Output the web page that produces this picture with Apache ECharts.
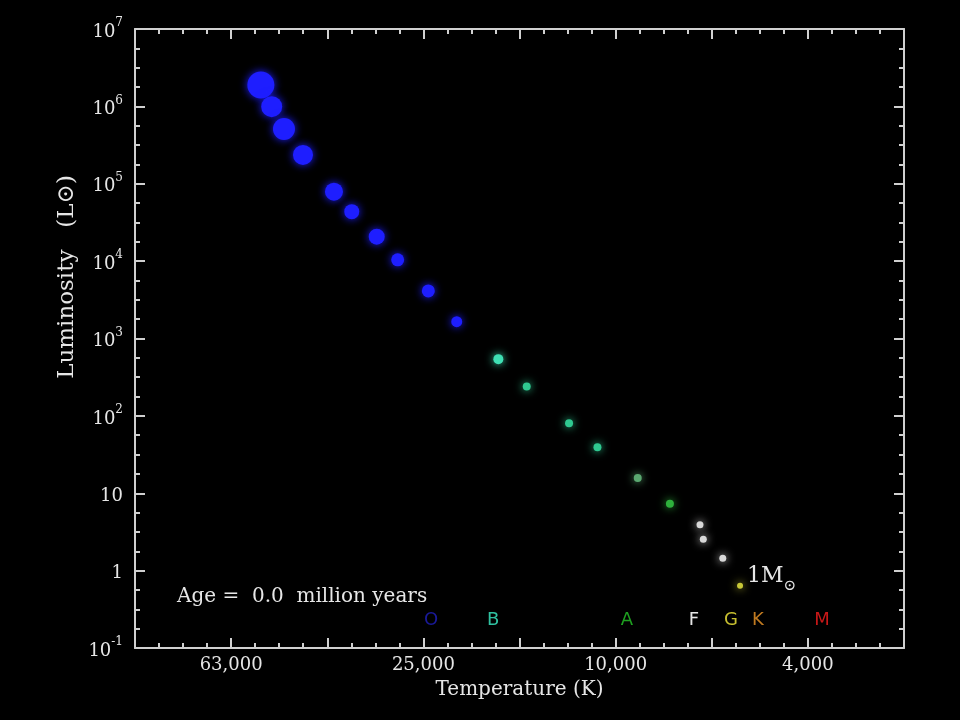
<!DOCTYPE html>
<html>
<head>
<meta charset="utf-8">
<script src="https://cdn.jsdelivr.net/npm/echarts@6/dist/echarts.min.js"></script>
<style>
html,body{margin:0;padding:0;background:#000;}
#chart{width:960px;height:720px;}
</style>
</head>
<body>
<div id="chart"></div>
<script>
// ---- data ----
const temperatureK = [54720, 51950, 48980, 44720, 38550, 35400, 31410, 28410, 24530, 21410, 17540, 15310, 12500, 10910, 8995, 7710, 6675, 6570, 5985, 5510];
const luminosityLsun = [1.89e6, 9.91e5, 5.11e5, 2.36e5, 7.91e4, 4.36e4, 2.07e4, 1.04e4, 4120, 1650, 541, 239, 80.5, 39.4, 15.7, 7.29, 3.91, 2.55, 1.45, 0.637];
const sunLabel = '1 M⊙';
const sunIndex = 19;

const spectralLetters = ['O', 'B', 'A', 'F', 'G', 'K', 'M'];
const spectralTempsK = [24200, 17990, 9470, 6870, 5755, 5060, 3720];
const spectralRowL = 0.231;

const xTickTemps = [63000, 25000, 10000, 4000];
const xTickLabels = ['63,000', '25,000', '10,000', '4,000'];
const yTickLabels = ['10^-1', '1', '10', '10^2', '10^3', '10^4', '10^5', '10^6', '10^7'];

const ageText = 'Age =  0.0  million years';
const xTitle = 'Temperature (K)';
const yTitle = 'Luminosity   (L⊙)';

// ---- styles ----
const starSymbolSizes = [27, 21, 22, 20, 18, 15, 16, 13, 13, 11, 10, 8, 8, 8, 8, 8, 7, 7, 7, 6];
const starColors = ['#1e1eff', '#1e1eff', '#1e1eff', '#1e1eff', '#1e1eff', '#1e1eff', '#1e1eff', '#1e1eff', '#1e1eff', '#1e1eff',
  '#3fe0b4', '#2fc890', '#2fc890', '#2fc890', '#5aa870', '#2eb03c', '#d8d8d8', '#d8d8d8', '#d8d8d8', '#c8c838'];
const letterColors = ['#1a1a9a', '#2fc0a0', '#1ea020', '#e6e6e6', '#c8c030', '#c07a20', '#c81818'];
const axisColor = '#d0d0d0';
const textColor = '#e6e6e6';
const serif = '"DejaVu Serif", serif';

const chart = echarts.init(document.getElementById('chart'), null, {renderer: 'canvas'});

function xFormatter(v) {
  for (let i = 0; i < xTickTemps.length; i++) {
    if (Math.abs(Math.log10(xTickTemps[i]) - v) < 0.02) return xTickLabels[i];
  }
  return '';
}
function yFormatter(v) {
  const idx = Math.round(v) + 1;
  const lab = yTickLabels[idx];
  if (lab === undefined) return '';
  if (lab.indexOf('^') >= 0) {
    const parts = lab.split('^');
    return '{b|' + parts[0] + '}{s|' + parts[1] + '}';
  }
  return '{b|' + lab + '}';
}

const tickStyle = {color: axisColor, width: 2};
function baseX(extra) {
  return Object.assign({
    type: 'value', min: 3.4, max: 5.0, interval: 0.2, inverse: true,
    axisLine: {show: true, onZero: false, lineStyle: {color: axisColor, width: 2}},
    axisTick: {show: true, inside: true, length: 10, lineStyle: tickStyle},
    minorTick: {show: true, splitNumber: 4, length: 5, lineStyle: tickStyle},
    splitLine: {show: false}, minorSplitLine: {show: false}
  }, extra);
}
function baseY(extra) {
  return Object.assign({
    type: 'value', min: -1, max: 7, interval: 1,
    axisLine: {show: true, onZero: false, lineStyle: {color: axisColor, width: 2}},
    axisTick: {show: true, inside: true, length: 10, lineStyle: tickStyle},
    minorTick: {show: true, splitNumber: 4, length: 5, lineStyle: tickStyle},
    splitLine: {show: false}, minorSplitLine: {show: false}
  }, extra);
}

const starData = temperatureK.map((t, i) => {
  const item = {
    value: [Math.log10(t), Math.log10(luminosityLsun[i])],
    symbolSize: starSymbolSizes[i],
    itemStyle: {color: starColors[i], opacity: 1, shadowBlur: 8, shadowColor: starColors[i]}
  };
  if (i === sunIndex) {
    const parts = sunLabel.split('⊙');
    item.label = {
      show: true, position: 'right', distance: 4, opacity: 1,
      formatter: '{a|' + parts[0].replace(' ', '') + '}{b|⊙}',
      rich: {
        a: {fontSize: 22, lineHeight: 22, verticalAlign: 'top', fontFamily: serif, color: textColor},
        b: {fontSize: 15, lineHeight: 40, fontFamily: serif, color: textColor}
      }
    };
  }
  return item;
});

const letterData = spectralLetters.map((l, i) => ({
  value: [Math.log10(spectralTempsK[i]), Math.log10(spectralRowL)],
  label: {show: true, position: 'inside', formatter: l, color: letterColors[i], opacity: 1,
    fontFamily: '"DejaVu Sans", sans-serif', fontSize: 18}
}));

const option = {
  backgroundColor: '#000',
  animation: false,
  grid: {left: 135, right: 56, top: 29, bottom: 72, containLabel: false},
  xAxis: [
    baseX({position: 'bottom',
      axisLabel: {formatter: xFormatter, color: textColor, fontFamily: serif, fontSize: 18, margin: 8},
      name: xTitle, nameLocation: 'middle', nameGap: 32,
      nameTextStyle: {color: textColor, fontFamily: serif, fontSize: 20}}),
    baseX({position: 'top', axisLabel: {show: false}})
  ],
  yAxis: [
    baseY({position: 'left',
      axisLabel: {formatter: yFormatter, margin: 12,
        rich: {
          b: {fontSize: 18, lineHeight: 24, fontFamily: serif, color: textColor, verticalAlign: 'bottom'},
          s: {fontSize: 12, lineHeight: 14, fontFamily: serif, color: textColor, verticalAlign: 'top'}
        }}}),
    baseY({position: 'right', axisLabel: {show: false}})
  ],
  graphic: [
    {type: 'text', left: 177, top: 587, silent: true,
      style: {text: ageText, fill: textColor, font: '20px ' + serif}},
    {type: 'text', x: 67, y: 277, rotation: Math.PI / 2, silent: true,
      style: {text: yTitle, fill: textColor, font: '23px ' + serif, textAlign: 'center', textVerticalAlign: 'middle'}}
  ],
  series: [
    {type: 'scatter', xAxisIndex: 0, yAxisIndex: 0, data: starData, symbol: 'circle', silent: true, z: 3},
    {type: 'scatter', xAxisIndex: 0, yAxisIndex: 0, data: letterData, symbolSize: 1,
      itemStyle: {color: 'rgba(0,0,0,0)'}, silent: true, z: 2}
  ]
};
chart.setOption(option);
</script>
</body>
</html>
